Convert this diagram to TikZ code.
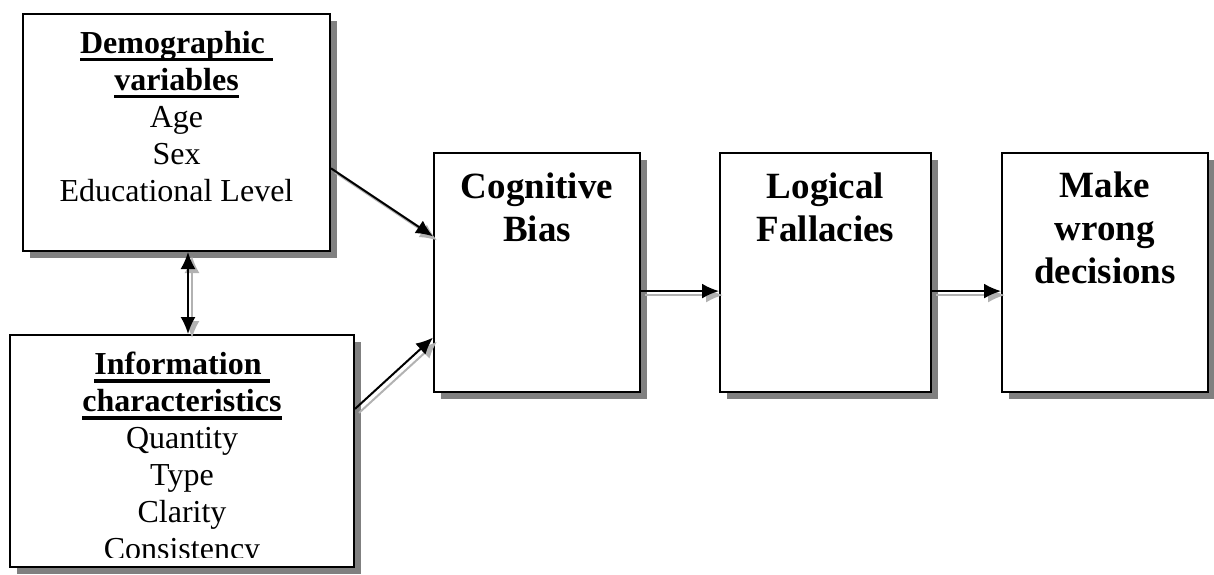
\documentclass[tikz,border=0pt]{standalone}
\usepackage{fontspec}
\setmainfont{Liberation Serif}
\usetikzlibrary{arrows.meta,shadows,calc}
\newcommand\myul[1]{\setbox0\hbox{#1}\rlap{\rule[-8pt]{\wd0}{3.5pt}}\box0}
\tikzset{
  box/.style={draw, line width=2pt, fill=white, inner sep=0pt,
    drop shadow={shadow xshift=7pt, shadow yshift=-7pt, fill=black!50, opacity=1}},
  lbl/.style={anchor=north, align=center, inner sep=0pt},
  body/.style={font=\fontsize{32}{37}\selectfont},
  title/.style={font=\fontsize{37}{43}\selectfont\bfseries},
  conn/.style={line width=2pt, -{Latex[length=17pt,width=15pt]}},
  dconn/.style={line width=2pt, {Latex[length=17pt,width=15pt]}-{Latex[length=17pt,width=15pt]}},
  cshadow/.style={draw=black!30, transform canvas={shift={(4,4)}}}
}
\begin{document}
\begin{tikzpicture}[x=1pt,y=-1pt]
\useasboundingbox (0,0) rectangle (1214,574);
% boxes
\node[box, minimum width=307pt, minimum height=237pt] (d) at (176.5,132.5) {};
\node[box, minimum width=344pt, minimum height=232pt] (i) at (182,451) {};
\node[box, minimum width=206pt, minimum height=239pt] (c) at (537,272.5) {};
\node[box, minimum width=211pt, minimum height=239pt] (l) at (825.5,272.5) {};
\node[box, minimum width=206pt, minimum height=239pt] (m) at (1105,272.5) {};
% texts
\node[lbl, body] (dt) at ($(d.north)+(0,18)$)
  {\myul{\textbf{Demographic\ }}\\\myul{\textbf{variables}}\\Age\\Sex\\Educational Level};
\begin{scope}
  \clip (i.north west) rectangle ($(i.south east)+(0,-11)$);
  \node[lbl, body] (it) at ($(i.north)+(0,18)$)
    {\myul{\textbf{Information\ }}\\\myul{\textbf{characteristics}}\\Quantity\\Type\\Clarity\\Consistency};
\end{scope}
\node[lbl, title] (ct) at ($(c.north)+(0,21)$) {Cognitive\\Bias};
\node[lbl, title] (lt) at ($(l.north)+(0,21)$) {Logical\\Fallacies};
\node[lbl, title] (mt) at ($(m.north)+(0,20)$) {Make\\wrong\\decisions};
% connector end points
\coordinate (vx) at (188,0);
\coordinate (a1s) at ($(d.north east)!0.65!(d.south east)$);
\coordinate (a1e) at ($(c.north west)!0.35!(c.south west)$);
\coordinate (a2s) at ($(i.north east)!0.32!(i.south east)$);
\coordinate (a2e) at ($(c.north west)!0.77!(c.south west)$);
\coordinate (h1s) at ($(c.north east)!0.577!(c.south east)$);
\coordinate (h1e) at ($(l.north west)!0.577!(l.south west)$);
\coordinate (h2s) at ($(l.north east)!0.577!(l.south east)$);
\coordinate (h2e) at ($(m.north west)!0.577!(m.south west)$);
% connector shadows
\draw[conn, cshadow] (a1s) -- (a1e);
\draw[conn, cshadow] (a2s) -- (a2e);
\draw[conn, cshadow] (h1s) -- (h1e);
\draw[conn, cshadow] (h2s) -- (h2e);
\draw[dconn, cshadow] (vx |- d.south) -- (vx |- i.north);
% connectors
\draw[conn] (a1s) -- (a1e);
\draw[conn] (a2s) -- (a2e);
\draw[conn] (h1s) -- (h1e);
\draw[conn] (h2s) -- (h2e);
\draw[dconn] (vx |- d.south) -- (vx |- i.north);
\end{tikzpicture}
\end{document}
